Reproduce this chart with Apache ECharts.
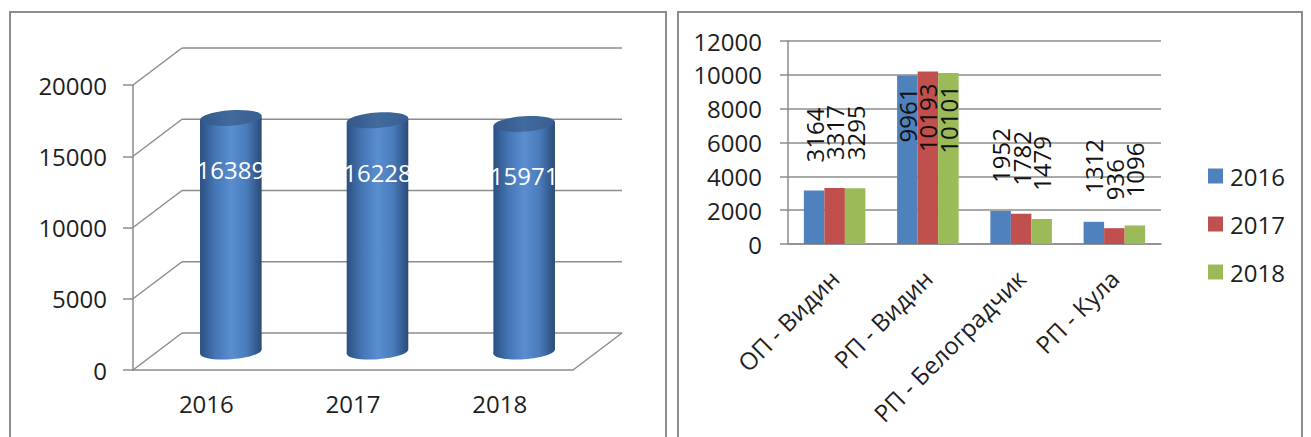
<!DOCTYPE html>
<html>
<head>
<meta charset="utf-8">
<script src="https://cdn.jsdelivr.net/npm/echarts@6/dist/echarts.min.js"></script>
<style>
  html, body { margin: 0; padding: 0; background: #ffffff; }
  #chart { width: 1311px; height: 437px; }
</style>
</head>
<body>
<div id="chart"></div>
<script>
// ---- data ----
const leftYears = ['2016', '2017', '2018'];
const leftTotals = [16389, 16228, 15971];
const leftTicks = [0, 5000, 10000, 15000, 20000];

const rightCategories = ['ОП - Видин', 'РП - Видин', 'РП - Белоградчик', 'РП - Кула'];
const seriesNames = ['2016', '2017', '2018'];
const values2016 = [3164, 9961, 1952, 1312];
const values2017 = [3317, 10193, 1782, 936];
const values2018 = [3295, 10101, 1479, 1096];

// ---- styling constants ----
const FONT = '"Open Sans", "Noto Sans", sans-serif';
const FS = 24;
const GRID_COLOR = '#8c8c8c';
const TEXT_COLOR = '#1e1e1e';
const DEPTH_X = 49, DEPTH_Y = 37;   // 3D depth offset of the left chart's back wall
const CYL_LABEL_DROP = 52;

const chart = echarts.init(document.getElementById('chart'), null, { renderer: 'svg' });

function renderFrame(params, api) {
  const cs = params.coordSys;
  const v = api.value(1);
  const y = api.coord([0, v])[1];
  const x0 = cs.x, x1 = cs.x + cs.width;
  const st = { stroke: GRID_COLOR, lineWidth: 1.5 };
  const children = [
    { type: 'line', shape: { x1: x0, y1: y, x2: x0 + DEPTH_X, y2: y - DEPTH_Y }, style: st },
    { type: 'line', shape: { x1: x0 + DEPTH_X, y1: y - DEPTH_Y, x2: x1 + DEPTH_X, y2: y - DEPTH_Y }, style: st }
  ];
  if (v === leftTicks[0]) {
    children.push({ type: 'line', shape: { x1: x1, y1: y, x2: x1 + DEPTH_X, y2: y - DEPTH_Y }, style: st });
  }
  return { type: 'group', children };
}

function renderCylinder(params, api) {
  const i = api.value(0), v = api.value(1);
  const base = api.coord([i, 0]);
  const top = api.coord([i, v]);
  const band = api.size([1, 0])[0];
  const rx = band * 0.21, ry = rx * 0.25;
  const cx = base[0] + DEPTH_X / 2;
  const yb = base[1] - DEPTH_Y / 2;
  const yt = top[1] - DEPTH_Y / 2;
  const tilt = 0.07;
  const s = rx * Math.sin(tilt);
  const bodyGrad = () => new echarts.graphic.LinearGradient(0, 0, 1, 0, [
    { offset: 0, color: '#2b5081' },
    { offset: 0.25, color: '#4576b5' },
    { offset: 0.5, color: '#5a8ed0' },
    { offset: 0.75, color: '#4a7cbb' },
    { offset: 1, color: '#2a4b78' }
  ]);
  const topGrad = new echarts.graphic.LinearGradient(0, 0, 1, 0, [
    { offset: 0, color: '#34588a' },
    { offset: 0.5, color: '#416a9d' },
    { offset: 1, color: '#385e90' }
  ]);
  return {
    type: 'group',
    children: [
      { type: 'ellipse', x: cx, y: yb, rotation: tilt, shape: { cx: 0, cy: 0, rx: rx, ry: ry }, style: { fill: bodyGrad() } },
      { type: 'polygon', shape: { points: [[cx - rx, yt + s], [cx + rx, yt - s], [cx + rx, yb - s], [cx - rx, yb + s]] }, style: { fill: bodyGrad() } },
      { type: 'ellipse', x: cx, y: yt, rotation: tilt, shape: { cx: 0, cy: 0, rx: rx, ry: ry }, style: { fill: topGrad } },
      { type: 'text', x: cx, y: yt + CYL_LABEL_DROP, style: { text: String(v), fill: '#ffffff', font: FS + 'px ' + FONT, align: 'center', verticalAlign: 'middle' } }
    ]
  };
}

const outsideLabel = { show: true, position: 'top', distance: 28, rotate: 90, align: 'left', verticalAlign: 'middle' };
const insideLabel = { show: true, position: 'insideTop', distance: 12, rotate: 90, align: 'right', verticalAlign: 'middle' };
function barData(vals) {
  return vals.map(v => ({ value: v, label: v > 9000 ? insideLabel : outsideLabel }));
}
const barColors = ['#4f81bd', '#c0504d', '#9bbb59'];
const barSeries = [values2016, values2017, values2018].map((vals, k) => ({
  name: seriesNames[k],
  type: 'bar',
  xAxisIndex: 1,
  yAxisIndex: 1,
  barGap: '0%',
  barCategoryGap: '34%',
  itemStyle: { color: barColors[k] },
  label: { fontFamily: FONT, fontSize: FS, color: '#111' },
  data: barData(vals)
}));

const axisLabelStyle = { color: TEXT_COLOR, fontFamily: FONT, fontSize: FS };
const plainNumber = v => String(v);

chart.setOption({
  animation: false,
  textStyle: { fontFamily: FONT },
  graphic: [
    { type: 'rect', shape: { x: 10, y: 12, width: 656, height: 460 }, style: { fill: null, stroke: '#8c8c8c', lineWidth: 2 }, silent: true },
    { type: 'rect', shape: { x: 678, y: 12, width: 624, height: 460 }, style: { fill: null, stroke: '#8c8c8c', lineWidth: 2 }, silent: true }
  ],
  legend: {
    data: seriesNames,
    orient: 'vertical',
    left: 1203,
    top: 159,
    itemWidth: 15,
    itemHeight: 15,
    itemGap: 24,
    icon: 'rect',
    selectedMode: false,
    textStyle: { color: TEXT_COLOR, fontFamily: FONT, fontSize: FS, lineHeight: 24, padding: [0, 0, 0, 2] }
  },
  grid: [
    { left: 133, top: 85, width: 440, height: 285 },
    { left: 788, top: 41, width: 373, height: 203 }
  ],
  xAxis: [
    {
      gridIndex: 0, type: 'category', data: leftYears,
      axisLine: { lineStyle: { color: GRID_COLOR, width: 1.5 } },
      axisTick: { length: 8, lineStyle: { color: GRID_COLOR, width: 1.5 } },
      axisLabel: Object.assign({ margin: 21 }, axisLabelStyle)
    },
    {
      gridIndex: 1, type: 'category', data: rightCategories,
      axisLine: { lineStyle: { color: GRID_COLOR, width: 1.5 } },
      axisTick: { length: 9, lineStyle: { color: GRID_COLOR, width: 1.5 } },
      axisLabel: Object.assign({ margin: 30, rotate: 45, interval: 0 }, axisLabelStyle)
    }
  ],
  yAxis: [
    {
      gridIndex: 0, type: 'value', min: 0, max: 20000, interval: 5000,
      axisLine: { show: true, lineStyle: { color: GRID_COLOR, width: 1.5 } },
      axisTick: { show: true, length: 10, lineStyle: { color: GRID_COLOR, width: 1.5 } },
      splitLine: { show: false },
      axisLabel: Object.assign({ margin: 26, formatter: plainNumber }, axisLabelStyle)
    },
    {
      gridIndex: 1, type: 'value', min: 0, max: 12000, interval: 2000,
      axisLine: { show: true, lineStyle: { color: GRID_COLOR, width: 1.5 } },
      axisTick: { show: true, length: 8, lineStyle: { color: GRID_COLOR, width: 1.5 } },
      splitLine: { show: true, lineStyle: { color: GRID_COLOR, width: 1.5 } },
      axisLabel: Object.assign({ margin: 26, formatter: plainNumber }, axisLabelStyle)
    }
  ],
  series: [
    {
      name: 'frame', type: 'custom', xAxisIndex: 0, yAxisIndex: 0, silent: true, z: 1,
      renderItem: renderFrame,
      data: leftTicks.map(v => [0, v])
    },
    {
      name: 'total', type: 'custom', xAxisIndex: 0, yAxisIndex: 0, z: 3,
      renderItem: renderCylinder,
      data: leftTotals.map((v, i) => [i, v])
    }
  ].concat(barSeries)
});
</script>
</body>
</html>
